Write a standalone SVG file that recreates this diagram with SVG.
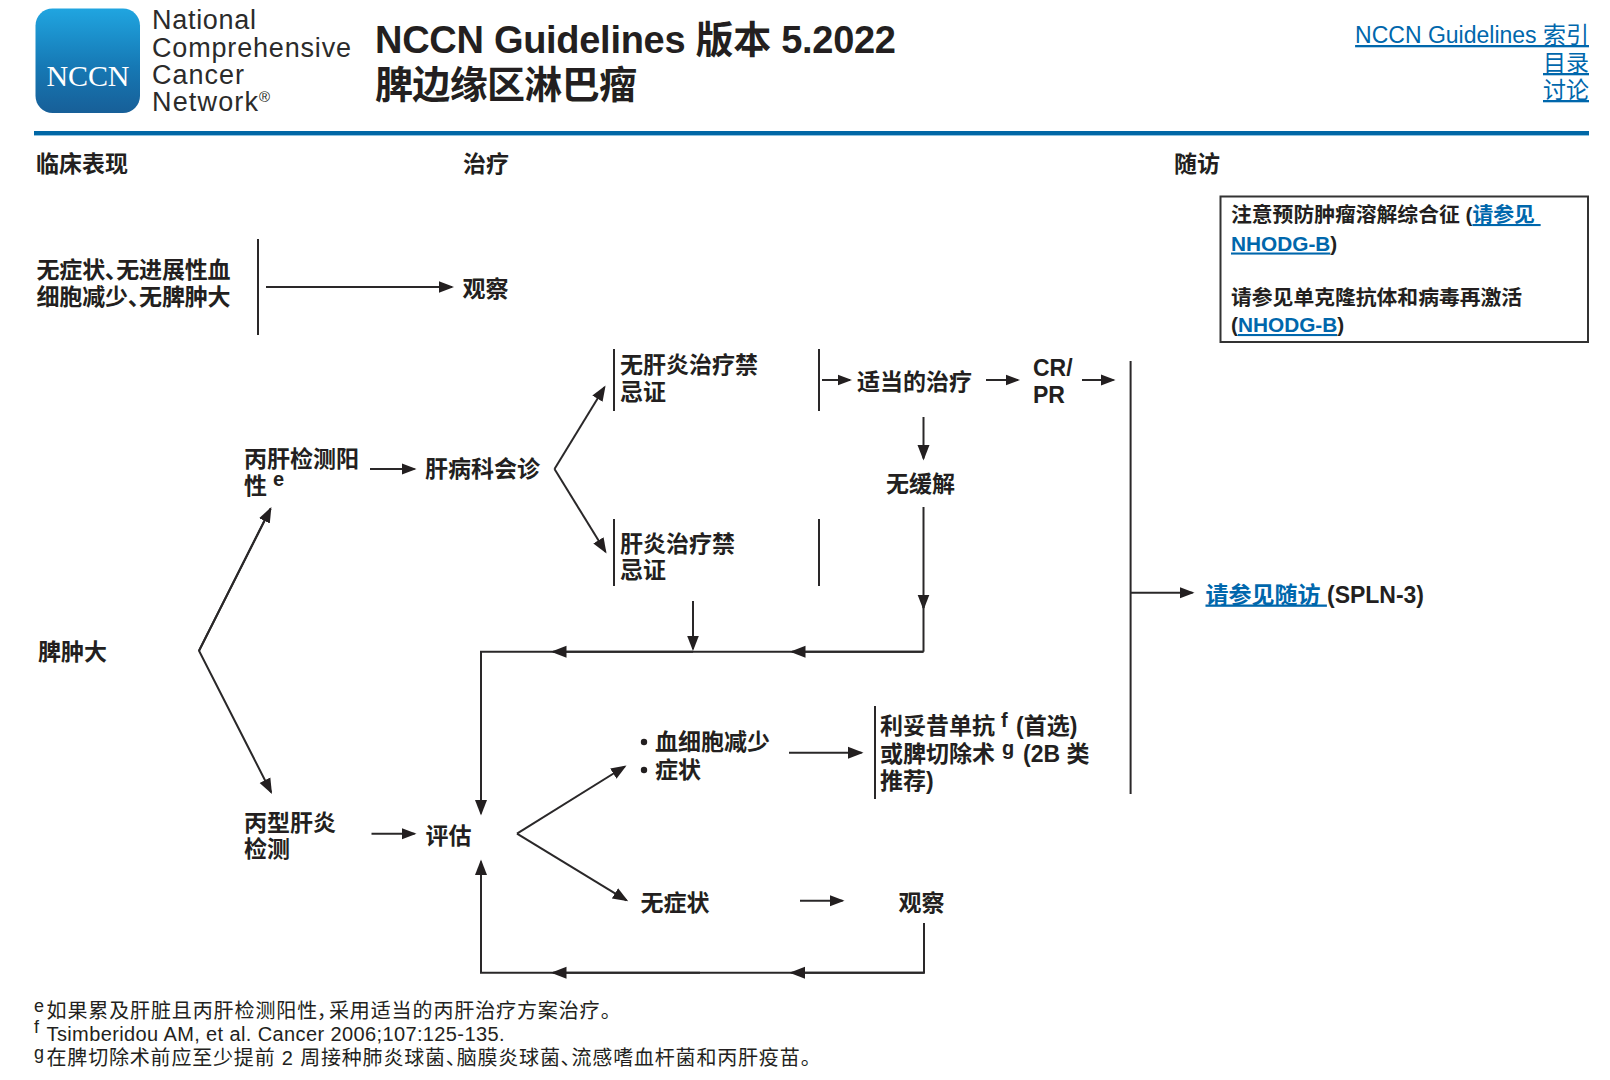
<svg xmlns="http://www.w3.org/2000/svg" width="1610" height="1080" viewBox="0 0 1610 1080">
<style>
text{font-family:"Liberation Sans","Noto Sans CJK SC",sans-serif;fill:#231f20;font-feature-settings:"palt"}
.b{font-weight:700;font-size:23px}
.h{font-weight:700;font-size:23px}
.t{font-weight:700;font-size:38px}
.x{font-weight:700;font-size:20.800px}
.s{font-weight:700;font-size:20px}
.o{font-size:27px;fill:#2b2b2b}
.l{font-size:23px;fill:#0067ac;text-decoration:underline}
.k{fill:#0067ac;text-decoration:underline}
.f{font-size:20px}
.u{font-size:18px}
.c line,.c path{fill:none;stroke:#2a2829;stroke-width:2}
.a{marker-end:url(#ah)}
.a2{marker-end:url(#ah2)}
</style>
<defs>
<linearGradient id="lg" x1="0" y1="0" x2="0" y2="1"><stop offset="0" stop-color="#20a5e0"/><stop offset=".55" stop-color="#1679b5"/><stop offset="1" stop-color="#175f98"/></linearGradient>
<marker id="ah" markerUnits="userSpaceOnUse" markerWidth="18" markerHeight="14" refX="12.500" refY="7" orient="auto"><path d="M0 1.500L14.500 7L0 12.500Z" fill="#231f20" stroke="none"/></marker>
<marker id="ah2" markerUnits="userSpaceOnUse" markerWidth="18" markerHeight="14" refX="13.500" refY="7" orient="auto"><path d="M0 1L15.500 7L0 13Z" fill="#231f20" stroke="none"/></marker>
</defs>
<rect width="1610" height="1080" fill="#fff"/>
<g id="header">
<rect x="35.500" y="8.500" width="104.500" height="104.500" rx="17" fill="url(#lg)"/>
<text x="46.500" y="86" textLength="83" style="font-family:'Liberation Serif',serif;font-size:30px;fill:#fff;font-weight:400">NCCN</text>
<text class="o" x="152" y="29" textLength="104">National</text>
<text class="o" x="152" y="57" textLength="199">Comprehensive</text>
<text class="o" x="152" y="84" textLength="92">Cancer</text>
<text class="o" x="152" y="111" textLength="106">Network</text>
<text x="259" y="102" style="font-size:15px">®</text>
<text class="t" x="375" y="52.500" textLength="521">NCCN Guidelines 版本 5.2022</text>
<text class="t" x="375" y="98" textLength="262">脾边缘区淋巴瘤</text>
<text class="l" x="1589" y="43" text-anchor="end">NCCN Guidelines 索引</text>
<text class="l" x="1589" y="71" text-anchor="end">目录</text>
<text class="l" x="1589" y="98" text-anchor="end">讨论</text>
<rect x="34" y="131" width="1555" height="4" fill="#0067a6"/>
<rect x="34" y="135" width="1555" height="1" fill="#8fc1de"/>
<text class="h" x="36" y="172">临床表现</text>
<text class="h" x="463" y="172">治疗</text>
<text class="h" x="1174" y="172">随访</text>
</g>
<g id="note-box">
<rect x="1220.500" y="196.500" width="367.500" height="145.500" fill="none" stroke="#333" stroke-width="2"/>
<text class="x" x="1231" y="222">注意预防肿瘤溶解综合征 (<tspan class="k">请参见&#160;</tspan></text>
<text class="x" x="1231" y="250.500"><tspan class="k">NHODG-B</tspan>)</text>
<text class="x" x="1231" y="305">请参见单克隆抗体和病毒再激活</text>
<text class="x" x="1231" y="332">(<tspan class="k">NHODG-B</tspan>)</text>
</g>
<g id="connectors" class="c">
<line x1="258" y1="239" x2="258" y2="335"/>
<line class="a2" x1="266" y1="287" x2="452" y2="287"/>
<line class="a" x1="370" y1="469" x2="414.500" y2="469"/>
<path d="M270.500 508.800L199 650.700L271.100 792.200" class="a2"/>
<line class="a2" x1="199" y1="650.700" x2="270.500" y2="508.800"/>
<path d="M554.500 469L604.500 387.200" class="a2"/>
<path d="M554.500 469L605.500 551.800" class="a2"/>
<line x1="614" y1="349" x2="614" y2="411"/>
<line x1="819" y1="349" x2="819" y2="411"/>
<line x1="614" y1="519" x2="614" y2="586"/>
<line x1="819" y1="519" x2="819" y2="586"/>
<line class="a" x1="822" y1="380" x2="850" y2="380"/>
<line class="a" x1="986" y1="380" x2="1018" y2="380"/>
<line class="a" x1="1082" y1="380" x2="1113.500" y2="380"/>
<line class="a2" x1="923.500" y1="417" x2="923.500" y2="458.500"/>
<line class="a2" x1="923.500" y1="507" x2="923.500" y2="608"/>
<line x1="923.500" y1="600" x2="923.500" y2="651.700"/>
<line class="a2" x1="693" y1="601" x2="693" y2="649"/>
<path d="M923.500 651.700H481V813.500" class="a2"/>
<line class="a2" x1="923.500" y1="651.700" x2="792" y2="651.700"/>
<line class="a2" x1="693" y1="651.700" x2="553" y2="651.700"/>
<path d="M924 923V972.700H481V861.500" class="a2"/>
<line class="a2" x1="924" y1="972.700" x2="791.500" y2="972.700"/>
<line class="a2" x1="700" y1="972.700" x2="553" y2="972.700"/>
<line class="a" x1="371.500" y1="833.700" x2="414.500" y2="833.700"/>
<path d="M517 833.700L624.800 766.500" class="a2"/>
<path d="M517 833.700L626.500 900.300" class="a2"/>
<line class="a2" x1="789" y1="752.700" x2="861.500" y2="752.700"/>
<line x1="875" y1="706" x2="875" y2="799"/>
<line class="a" x1="800" y1="900.700" x2="842.500" y2="900.700"/>
<line x1="1130.600" y1="361" x2="1130.600" y2="794"/>
<line class="a" x1="1131" y1="592.700" x2="1192.500" y2="592.700"/>
</g>
<g id="n-asymptomatic"><text class="b" x="36.500" y="278" textLength="194">无症状、无进展性血</text><text class="b" x="36.500" y="305" textLength="194">细胞减少、无脾肿大</text></g>
<g id="n-observe1"><text class="b" x="462.500" y="297">观察</text></g>
<g id="n-hcv-positive"><text class="b" x="244" y="467">丙肝检测阳</text><text class="b" x="244" y="493.500">性</text><text class="s" x="273" y="486">e</text></g>
<g id="n-hepatology"><text class="b" x="425" y="477">肝病科会诊</text></g>
<g id="n-splenomegaly"><text class="b" x="38" y="660">脾肿大</text></g>
<g id="n-no-contra"><text class="b" x="620" y="373">无肝炎治疗禁</text><text class="b" x="620" y="399.500">忌证</text></g>
<g id="n-contra"><text class="b" x="620" y="552">肝炎治疗禁</text><text class="b" x="620" y="578">忌证</text></g>
<g id="n-treatment"><text class="b" x="857" y="390">适当的治疗</text></g>
<g id="n-crpr"><text class="b" x="1033" y="376">CR/</text><text class="b" x="1033" y="403">PR</text></g>
<g id="n-no-response"><text class="b" x="886" y="492">无缓解</text></g>
<g id="n-followup"><text class="b" x="1205.500" y="602.500"><tspan class="k">请参见随访&#160;</tspan></text><text class="b" x="1327" y="603" textLength="97">(SPLN-3)</text></g>
<g id="n-hcv-test"><text class="b" x="244" y="830.500">丙型肝炎</text><text class="b" x="244" y="857">检测</text></g>
<g id="n-eval"><text class="b" x="425.500" y="844">评估</text></g>
<g id="n-symptoms"><circle cx="644" cy="742" r="3.200" fill="#231f20"/><circle cx="644" cy="770" r="3.200" fill="#231f20"/><text class="b" x="655" y="750">血细胞减少</text><text class="b" x="655" y="778">症状</text></g>
<g id="n-none"><text class="b" x="640.500" y="911">无症状</text></g>
<g id="n-observe2"><text class="b" x="898.500" y="911">观察</text></g>
<g id="n-rituximab"><text class="b" x="880" y="734">利妥昔单抗</text><text class="s" x="1001" y="727">f</text><text class="b" x="1016" y="734">(首选)</text><text class="b" x="880" y="762">或脾切除术</text><text class="s" x="1002" y="755">g</text><text class="b" x="1023" y="762">(2B 类</text><text class="b" x="880" y="788.500">推荐)</text></g>
<g id="footnotes">
<text class="u" x="34" y="1012">e</text><text class="f" x="46.500" y="1018" textLength="564">如果累及肝脏且丙肝检测阳性，采用适当的丙肝治疗方案治疗。</text>
<text class="u" x="34" y="1033">f</text><text class="f" x="46.500" y="1040.500" textLength="458">Tsimberidou AM, et al. Cancer 2006;107:125-135.</text>
<text class="u" x="34" y="1059">g</text><text class="f" x="46.500" y="1064.500" textLength="764">在脾切除术前应至少提前 2 周接种肺炎球菌、脑膜炎球菌、流感嗜血杆菌和丙肝疫苗。</text>
</g>
</svg>
